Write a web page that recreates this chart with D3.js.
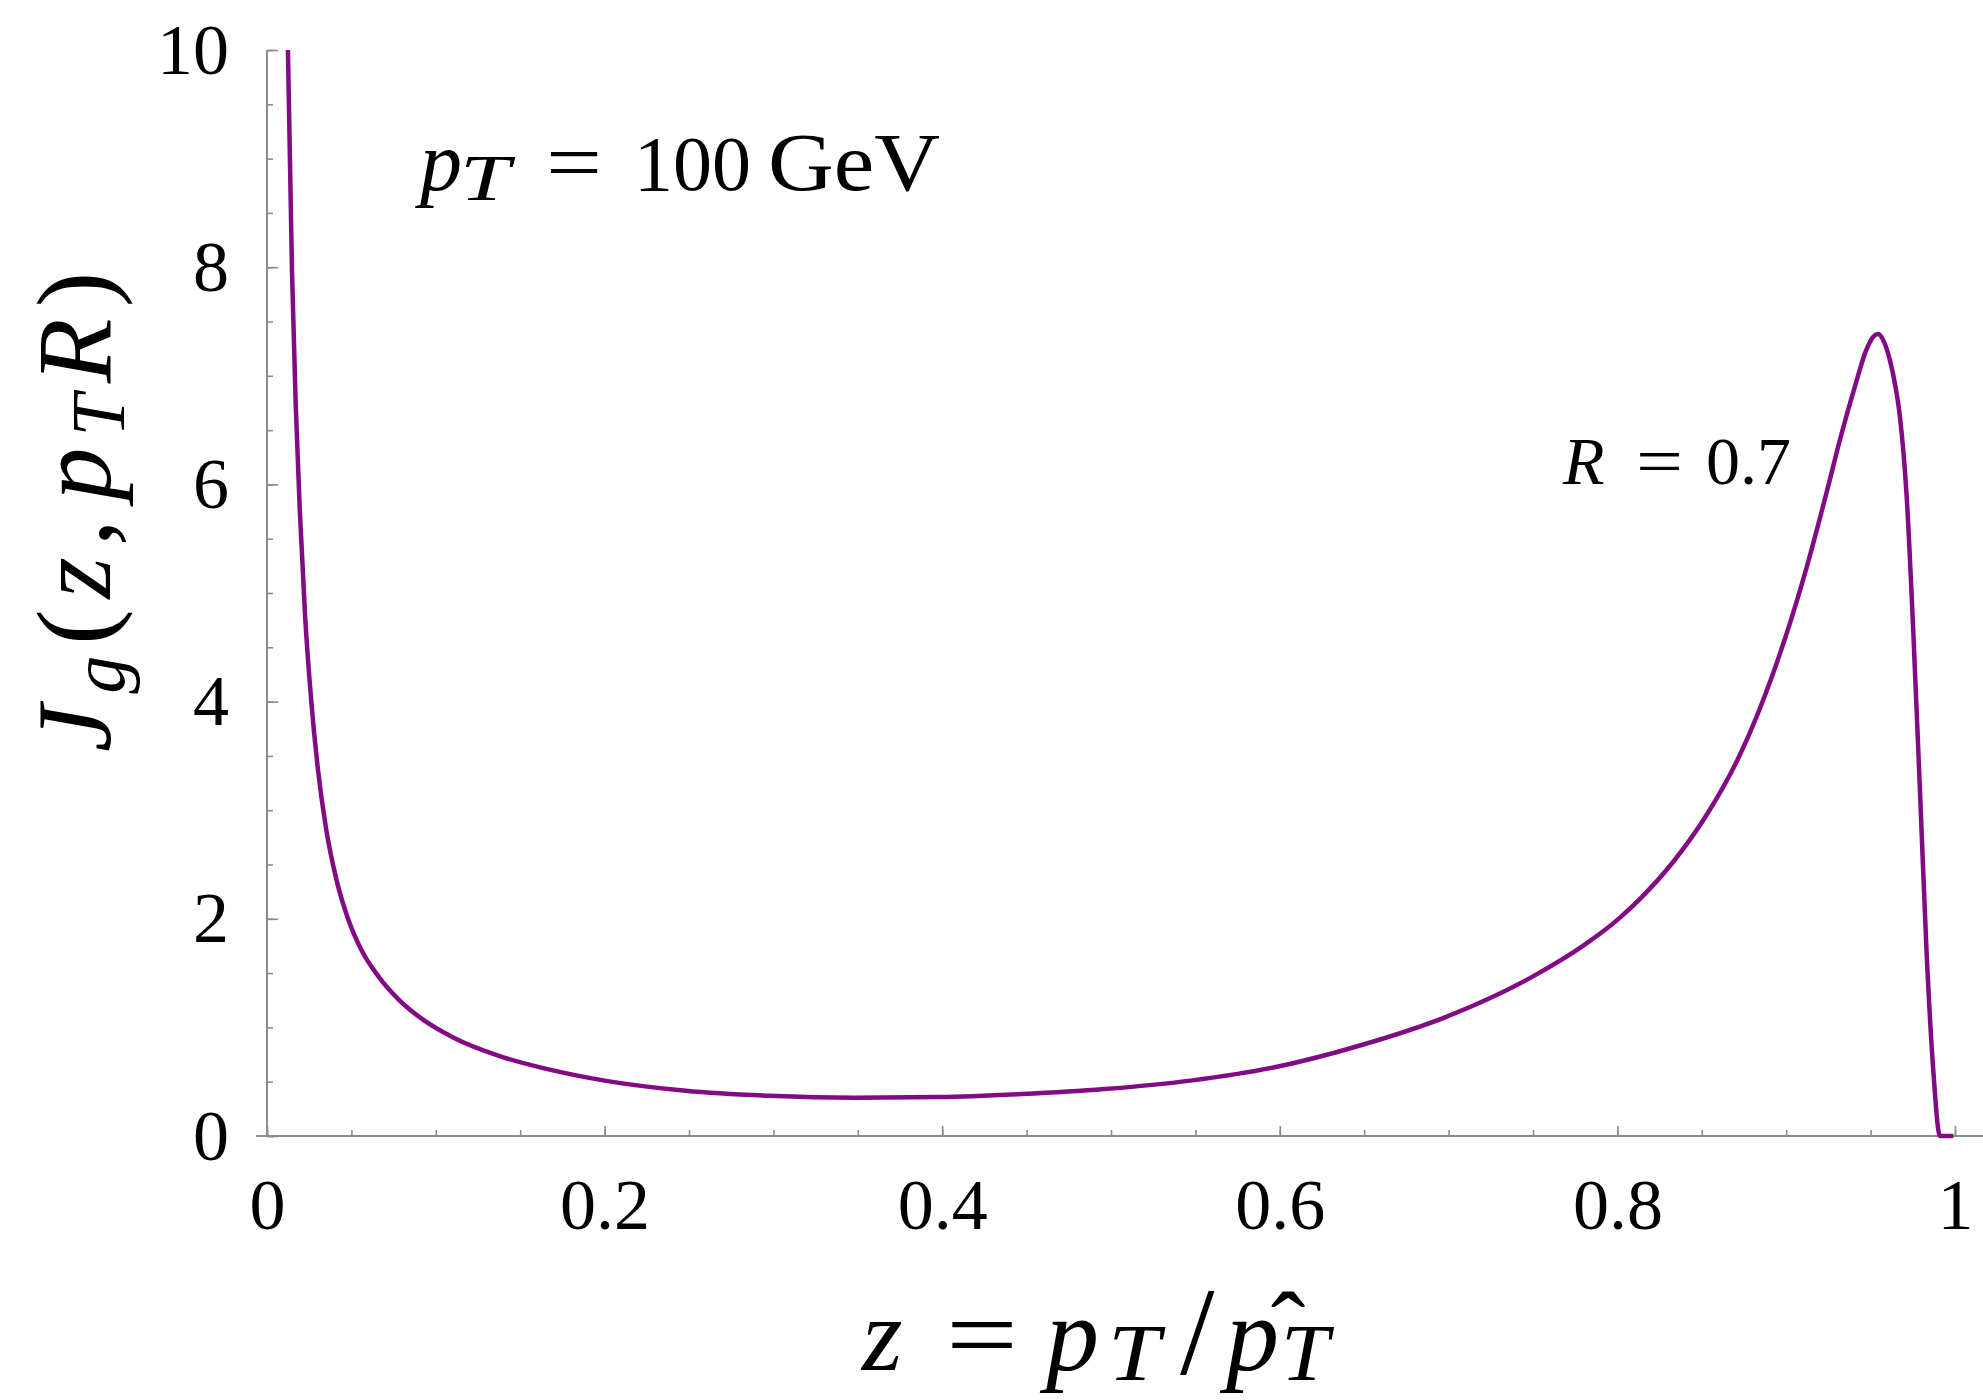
<!DOCTYPE html>
<html>
<head>
<meta charset="utf-8">
<script src="https://cdn.jsdelivr.net/npm/d3@7"></script>
<style>
  body { margin: 0; background: #fff; }
  text { font-family: "Liberation Serif", "DejaVu Serif", serif; fill: #000; }
</style>
</head>
<body>
<svg id="chart" width="1983" height="1400"></svg>
<script>
// ---- data ----
const zValues = [0.0124, 0.0148, 0.017, 0.0194, 0.0226, 0.0262, 0.030, 0.035, 0.041, 0.048, 0.056, 0.066, 0.078, 0.092, 0.11, 0.137, 0.165, 0.20, 0.248, 0.298, 0.348, 0.398, 0.447, 0.496, 0.547, 0.597, 0.6485, 0.699, 0.75, 0.78, 0.80, 0.8134, 0.833, 0.853, 0.8726, 0.892, 0.912, 0.924, 0.932, 0.9418, 0.947, 0.9516, 0.9545, 0.958, 0.9615, 0.9645, 0.9674, 0.9714, 0.9753, 0.9793, 0.9832, 0.9872, 0.9911, 0.999];
const jValues = [10.0, 7.97, 6.74, 5.77, 4.78, 4.01, 3.40, 2.83, 2.37, 2.0, 1.71, 1.47, 1.256, 1.076, 0.91, 0.74, 0.62, 0.51, 0.417, 0.37, 0.352, 0.358, 0.386, 0.432, 0.51, 0.633, 0.838, 1.10, 1.47, 1.755, 1.99, 2.184, 2.523, 2.96, 3.51, 4.25, 5.23, 5.93, 6.42, 6.96, 7.22, 7.36, 7.385, 7.31, 7.14, 6.92, 6.62, 5.88, 4.64, 3.16, 1.68, 0.59, 0.0, 0.0];

const xTickValues = [0, 0.2, 0.4, 0.6, 0.8, 1];
const xTickLabels = ["0", "0.2", "0.4", "0.6", "0.8", "1"];
const yTickValues = [0, 2, 4, 6, 8, 10];
const yTickLabels = ["0", "2", "4", "6", "8", "10"];
const xMinorStep = 0.05;
const yMinorStep = 0.5;

// ---- layout ----
const svg = d3.select("#chart");
const x = d3.scaleLinear().domain([0, 1]).range([267, 1955]);
const y = d3.scaleLinear().domain([0, 10]).range([1136, 50]);
const axisColor = "#8c8c8c";

const xMinor = d3.range(0, 1 + 1e-9, xMinorStep).map(v => +v.toFixed(4));
const yMinor = d3.range(0, 10 + 1e-9, yMinorStep).map(v => +v.toFixed(4));

// axis lines
svg.append("line")
  .attr("x1", x(-0.0065)).attr("x2", x(1.017))
  .attr("y1", y(0)).attr("y2", y(0))
  .attr("stroke", axisColor).attr("stroke-width", 2);
svg.append("line")
  .attr("x1", x(0)).attr("x2", x(0))
  .attr("y1", y(0)).attr("y2", y(10))
  .attr("stroke", axisColor).attr("stroke-width", 2);

const gxMinor = svg.append("g").attr("transform", `translate(0,${y(0)})`)
  .call(d3.axisBottom(x).tickValues(xMinor).tickSize(-6).tickSizeOuter(0).tickFormat(""));
const gx = svg.append("g").attr("transform", `translate(0,${y(0)})`)
  .call(d3.axisBottom(x).tickValues(xTickValues).tickSize(-10).tickSizeOuter(0).tickPadding(42)
    .tickFormat((d, i) => xTickLabels[i]));
const gyMinor = svg.append("g").attr("transform", `translate(${x(0)},0)`)
  .call(d3.axisLeft(y).tickValues(yMinor).tickSize(-6).tickSizeOuter(0).tickFormat(""));
const gy = svg.append("g").attr("transform", `translate(${x(0)},0)`)
  .call(d3.axisLeft(y).tickValues(yTickValues).tickSize(-11).tickSizeOuter(0).tickPadding(38)
    .tickFormat((d, i) => yTickLabels[i]));

[gxMinor, gx, gyMinor, gy].forEach(g => {
  g.select(".domain").remove();
  g.selectAll(".tick line").attr("stroke", axisColor).attr("stroke-width", 1.6);
  g.selectAll(".tick text")
    .attr("font-family", '"Liberation Serif", serif')
    .attr("font-size", 72)
    .attr("fill", "#000");
});

// ---- curve ----
const pts = zValues.map((z, i) => [z, jValues[i]]);
const line = d3.line().x(d => x(d[0])).y(d => y(d[1])).curve(d3.curveMonotoneX);
svg.append("path")
  .datum(pts)
  .attr("d", line)
  .attr("fill", "none")
  .attr("stroke", "#820a84")
  .attr("stroke-width", 4.5)
  .attr("stroke-linejoin", "round");

// ---- annotation: p_T = 100 GeV ----
const ann = svg.append("g");
const annBase = 190;
ann.append("text").attr("x", 420).attr("y", annBase).attr("font-size", 84).attr("font-style", "italic").text("p");
ann.append("text").attr("x", 460).attr("y", annBase + 10).attr("font-size", 66).attr("font-style", "italic")
  .attr("textLength", 50).attr("lengthAdjust", "spacingAndGlyphs").text("T");
ann.append("text").attr("x", 546).attr("y", annBase).attr("font-size", 82)
  .attr("textLength", 56).attr("lengthAdjust", "spacingAndGlyphs").text("=");
ann.append("text").attr("x", 634).attr("y", annBase).attr("font-size", 78).text("100");
ann.append("text").attr("x", 768).attr("y", annBase).attr("font-size", 82)
  .attr("textLength", 172).attr("lengthAdjust", "spacingAndGlyphs").text("GeV");

// ---- annotation: R = 0.7 ----
const r = svg.append("g");
const rBase = 484;
r.append("text").attr("x", 1563).attr("y", rBase).attr("font-size", 68).attr("font-style", "italic").text("R");
r.append("text").attr("x", 1636).attr("y", rBase).attr("font-size", 68)
  .attr("textLength", 47).attr("lengthAdjust", "spacingAndGlyphs").text("=");
r.append("text").attr("x", 1706).attr("y", rBase).attr("font-size", 68).text("0.7");

// ---- x-axis title: z = p_T / p̂_T ----
const xt = svg.append("g");
const xtBase = 1370;
xt.append("text").attr("x", 862).attr("y", xtBase).attr("font-size", 104).attr("font-style", "italic").text("z");
xt.append("text").attr("x", 946).attr("y", xtBase).attr("font-size", 104)
  .attr("textLength", 72).attr("lengthAdjust", "spacingAndGlyphs").text("=");
xt.append("text").attr("x", 1046).attr("y", xtBase).attr("font-size", 106).attr("font-style", "italic").text("p");
xt.append("text").attr("x", 1108).attr("y", xtBase + 10).attr("font-size", 80).attr("font-style", "italic")
  .attr("textLength", 52).attr("lengthAdjust", "spacingAndGlyphs").text("T");
xt.append("text").attr("x", 1180).attr("y", xtBase + 4).attr("font-size", 124).text("/");
xt.append("text").attr("x", 1226).attr("y", xtBase).attr("font-size", 106).attr("font-style", "italic").text("p");
xt.append("text").attr("x", 1288).attr("y", xtBase - 6).attr("font-size", 104).attr("text-anchor", "middle").text("\u02C6");
xt.append("text").attr("x", 1281).attr("y", xtBase + 10).attr("font-size", 80).attr("font-style", "italic")
  .attr("textLength", 48).attr("lengthAdjust", "spacingAndGlyphs").text("T");

// ---- y-axis title: J_g(z, p_T R) ----
const yt = svg.append("text")
  .attr("transform", "translate(110,512) rotate(-90)")
  .attr("text-anchor", "middle")
  .attr("font-size", 106)
  .attr("textLength", 480)
  .attr("lengthAdjust", "spacing");
yt.append("tspan").attr("font-style", "italic").text("J");
yt.append("tspan").attr("font-style", "italic").attr("font-size", 76).attr("dy", 14).text("g");
yt.append("tspan").attr("dy", -14).text("(");
yt.append("tspan").attr("font-style", "italic").text("z");
yt.append("tspan").text(",");
yt.append("tspan").attr("font-style", "italic").attr("dx", 8).text("p");
yt.append("tspan").attr("font-style", "italic").attr("font-size", 76).attr("dy", 14).text("T");
yt.append("tspan").attr("font-style", "italic").attr("dy", -14).text("R");
yt.append("tspan").text(")");
</script>
</body>
</html>
